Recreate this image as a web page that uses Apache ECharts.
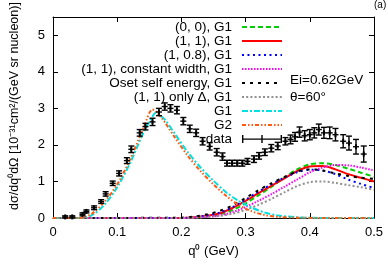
<!DOCTYPE html>
<html><head><meta charset="utf-8">
<script src="https://cdn.jsdelivr.net/npm/echarts@6/dist/echarts.min.js"></script>
<style>html,body{margin:0;padding:0;background:#fff}#c{width:388px;height:273px}</style>
</head><body><div id="c"></div>
<script>
// ---- data ----
var seriesNames = ['(0, 0), G1','(1, 1), G1','(1, 0.8), G1','(1, 1), constant width, G1','Oset self energy, G1','(1, 1) only \u0394, G1','G1','G2','data'];
var xTicks = [0, 0.1, 0.2, 0.3, 0.4, 0.5];
var yTicks = [0, 1, 2, 3, 4, 5];

// first-peak curves (G1, G2)
var qPeak = [0, 0.04, 0.06, 0.08, 0.10, 0.12, 0.14, 0.155, 0.16, 0.17, 0.175, 0.19, 0.21, 0.23, 0.25, 0.27, 0.29, 0.31, 0.33, 0.35, 0.38, 0.42, 0.5];
var g1 = [0, 0, 0.07, 0.36, 0.84, 1.5, 2.3, 2.78, 2.88, 2.76, 2.68, 2.3, 1.8, 1.38, 1.02, 0.7, 0.46, 0.28, 0.15, 0.07, 0.02, 0, 0];
var g2 = [0, 0, 0.11, 0.44, 0.92, 1.6, 2.42, 2.97, 2.92, 2.72, 2.6, 2.2, 1.7, 1.28, 0.92, 0.6, 0.35, 0.18, 0.08, 0.03, 0.01, 0, 0];

// second-peak curves
var qSecond = [0, 0.2, 0.22, 0.24, 0.26, 0.28, 0.30, 0.32, 0.34, 0.36, 0.38, 0.40, 0.42, 0.44, 0.46, 0.48, 0.50];
var c00   = [0, 0, 0.01, 0.04, 0.10, 0.22, 0.40, 0.62, 0.85, 1.10, 1.33, 1.47, 1.50, 1.45, 1.35, 1.24, 1.13];
var c11   = [0, 0, 0.02, 0.06, 0.13, 0.28, 0.47, 0.68, 0.88, 1.08, 1.28, 1.41, 1.42, 1.33, 1.20, 1.10, 1.00];
var c108  = [0, 0, 0.02, 0.07, 0.15, 0.30, 0.50, 0.72, 0.92, 1.10, 1.25, 1.32, 1.30, 1.20, 1.05, 0.93, 0.82];
var cConst= [0, 0, 0.01, 0.03, 0.07, 0.16, 0.30, 0.47, 0.65, 0.85, 1.05, 1.25, 1.38, 1.45, 1.44, 1.38, 1.30];
var cOset = [0, 0.01, 0.04, 0.10, 0.20, 0.35, 0.55, 0.76, 0.95, 1.12, 1.27, 1.33, 1.30, 1.22, 1.15, 1.10, 1.07];
var cDelta= [0, 0, 0.01, 0.03, 0.06, 0.12, 0.22, 0.36, 0.52, 0.70, 0.87, 0.98, 1.00, 0.96, 0.90, 0.84, 0.77];

// experimental data: q0, value, error
var dataQ = [0.019,0.030,0.046,0.052,0.064,0.075,0.082,0.093,0.103,0.115,0.122,0.135,0.144,0.155,0.165,0.174,0.183,0.193,0.203,0.213,0.223,0.233,0.244,0.255,0.264,0.271,0.279,0.287,0.295,0.303,0.313,0.321,0.330,0.340,0.350,0.362,0.370,0.377,0.384,0.392,0.400,0.407,0.414,0.422,0.431,0.440,0.452,0.461,0.472,0.484];
var dataV = [0.03,0.03,0.10,0.18,0.28,0.45,0.66,0.95,1.22,1.57,1.88,2.33,2.50,2.63,2.90,3.05,3.00,2.95,2.65,2.44,2.33,2.10,1.96,1.80,1.68,1.50,1.50,1.50,1.50,1.55,1.61,1.70,1.80,1.91,1.97,2.10,2.15,2.22,2.35,2.25,2.28,2.33,2.42,2.33,2.33,2.28,2.10,2.05,1.95,1.75];
var dataE = [0.03,0.03,0.04,0.04,0.05,0.05,0.06,0.06,0.07,0.08,0.09,0.09,0.09,0.10,0.10,0.10,0.10,0.10,0.10,0.10,0.10,0.10,0.10,0.10,0.10,0.08,0.08,0.08,0.08,0.08,0.09,0.09,0.09,0.10,0.10,0.10,0.12,0.12,0.14,0.14,0.14,0.14,0.15,0.15,0.16,0.17,0.18,0.19,0.20,0.22];

function pairs(xs, ys){ return xs.map(function(x,i){ return [x, ys[i]]; }); }

var FONT = 'Liberation Sans';
var chart = echarts.init(document.getElementById('c'), null, {renderer:'canvas'});

function lineSeries(name, xs, ys, color, type, width){
  return {name:name, type:'line', data:pairs(xs,ys), symbol:'none', smooth:0.3,
    xAxisIndex:0, yAxisIndex:0, clip:true,
    lineStyle:{color:color, width:width||2, type:type}, itemStyle:{color:color}, z:3};
}

var errData = dataQ.map(function(q,i){ return [q, dataV[i], dataE[i]]; });

var axisCommon = {
  axisLine:{show:true, onZero:false, lineStyle:{color:'#000', width:1}},
  axisTick:{show:true, inside:true, length:5, lineStyle:{color:'#000', width:1}},
  splitLine:{show:false}
};

var option = {
  animation:false,
  backgroundColor:'#fff',
  textStyle:{fontFamily:FONT},
  grid:{left:53, right:14, top:17, bottom:55, containLabel:false},
  xAxis:[
    Object.assign({type:'value', min:xTicks[0], max:xTicks[xTicks.length-1], interval:0.1, position:'bottom',
      name:'q\u2070 (GeV)', nameLocation:'middle', nameGap:27,
      nameTextStyle:{color:'#000', fontSize:13, fontFamily:FONT},
      axisLabel:{color:'#000', fontSize:13, margin:8, fontFamily:FONT,
        formatter:function(v){ return v===0 ? '0' : v.toFixed(1); }}}, axisCommon),
    Object.assign({type:'value', min:0, max:0.5, interval:0.1, position:'top', axisLabel:{show:false}}, axisCommon)
  ],
  yAxis:[
    Object.assign({type:'value', min:0, max:5.5, interval:1, position:'left',
      axisLabel:{color:'#000', fontSize:13, margin:8, fontFamily:FONT,
        formatter:function(v){ return yTicks.indexOf(v) >= 0 ? String(v) : ''; }}}, axisCommon),
    Object.assign({type:'value', min:0, max:5.5, interval:1, position:'right', axisLabel:{show:false}}, axisCommon)
  ],
  legend:{
    orient:'vertical', right:105, top:20, padding:0, align:'right',
    itemWidth:40, itemHeight:12, itemGap:0,
    itemStyle:{color:'rgba(0,0,0,0)', borderColor:'rgba(0,0,0,0)', borderWidth:0},
    textStyle:{color:'#000', fontSize:13.5, fontFamily:FONT, padding:[0,5,0,0]},
    data: seriesNames.map(function(n){
      if(n==='data') return {name:n, icon:'path://M0,5H40V6.2H0Z M0,1.5H1.4V9.5H0Z M19.3,1.5H20.7V9.5H19.3Z M38.6,1.5H40V9.5H38.6Z', itemStyle:{color:'#000', borderColor:'#000'}};
      return {name:n};
    })
  },
  graphic:[
    {type:'text', left:290, top:73, style:{text:'Ei=0.62GeV', fill:'#000', font:'13.5px "Liberation Sans"'}},
    {type:'text', left:290, top:90, style:{text:'\u03b8=60\u00b0', fill:'#000', font:'13.5px "Liberation Sans"'}},
    {type:'text', left:374, top:0, style:{text:'(a)', fill:'#000', font:'10px "Liberation Sans"'}},
    {type:'text', x:15, y:106, rotation:Math.PI/2,
      style:{text:'d\u03c3/dq\u2070d\u03a9 [10\u207b\u00b3\u00b9cm\u00b2/(GeV sr nucleon)]', fill:'#000',
        font:'12.5px "Liberation Sans"', align:'center', verticalAlign:'middle'}}
  ],
  series:[
    lineSeries(seriesNames[0], qSecond, c00, '#00d000', [5,3]),
    lineSeries(seriesNames[1], qSecond, c11, '#ff0000', 'solid'),
    lineSeries(seriesNames[2], qSecond, c108, '#0000ff', [2,3.5]),
    lineSeries(seriesNames[3], qSecond, cConst, '#ff00ff', [1.5,1.5]),
    lineSeries(seriesNames[4], qSecond, cOset, '#000000', [3,5]),
    lineSeries(seriesNames[5], qSecond, cDelta, '#909090', [2,2.2]),
    lineSeries(seriesNames[6], qPeak, g1, '#00e0e0', [6,2,2,2]),
    lineSeries(seriesNames[7], qPeak, g2, '#ff5a10', [4,2,1.5,2,1.5,2]),
    {
      name:seriesNames[8], type:'custom', xAxisIndex:0, yAxisIndex:0, z:5,
      itemStyle:{color:'#000'},
      data: errData,
      encode:{x:0, y:[1]},
      renderItem:function(params, api){
        var q = api.value(0), v = api.value(1), e = api.value(2);
        var c = api.coord([q, v]);
        var hi = api.coord([q, v+e]);
        var lo = api.coord([q, Math.max(0, v-e)]);
        var w = 3;
        var st = {stroke:'#000', lineWidth:1.4};
        return {type:'group', children:[
          {type:'line', shape:{x1:c[0], y1:hi[1], x2:c[0], y2:lo[1]}, style:st},
          {type:'line', shape:{x1:c[0]-w, y1:hi[1], x2:c[0]+w, y2:hi[1]}, style:st},
          {type:'line', shape:{x1:c[0]-w, y1:lo[1], x2:c[0]+w, y2:lo[1]}, style:st},
          {type:'line', shape:{x1:c[0]-w, y1:c[1], x2:c[0]+w, y2:c[1]}, style:st},
          {type:'line', shape:{x1:c[0], y1:c[1]-2.5, x2:c[0], y2:c[1]+2.5}, style:{stroke:'#000', lineWidth:2}}
        ]};
      }
    }
  ]
};
chart.setOption(option);
</script></body></html>
